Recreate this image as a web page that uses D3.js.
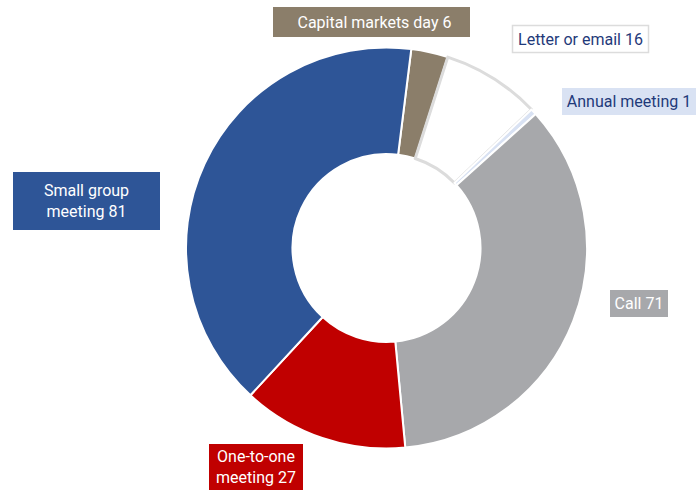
<!DOCTYPE html>
<html>
<head>
<meta charset="utf-8">
<script src="https://cdn.jsdelivr.net/npm/d3@7"></script>
<style>
  body { margin: 0; background: #fff; }
  svg { display: block; font-family: "Roboto", "Lato", sans-serif; }
</style>
</head>
<body>
<div id="chart"></div>
<script>
// DATA
var categories = ['Capital markets day', 'Letter or email', 'Annual meeting', 'Call', 'One-to-one meeting', 'Small group meeting'];
var values = [6, 16, 1, 71, 27, 81];
var labelLines = [
   ['Capital markets day 6'],
   ['Letter or email 16'],
   ['Annual meeting 1'],
   ['Call 71'],
   ['One-to-one', 'meeting 27'],
   ['Small group', 'meeting 81']
];

// STYLES
var fills = ['#8b7e6a', '#ffffff', '#d9e2f3', '#a7a8ab', '#c00000', '#2e5597'];
var strokes = ['#ffffff', '#dcdcdc', '#ffffff', '#ffffff', '#ffffff', '#ffffff'];
var boxFill = ['#8b7e6a', '#ffffff', '#d9e2f3', '#a7a8ab', '#c00000', '#2e5597'];
var boxStroke = ['none', '#dcdcdc', 'none', 'none', 'none', 'none'];
var textFill = ['#ffffff', '#1f3a7a', '#1f3a7a', '#ffffff', '#ffffff', '#ffffff'];

// LABEL BOXES [x, y, w, h]
var boxes = [
   [273, 7, 197, 30],
   [512.5, 25.5, 136, 27],
   [562, 88, 134, 27],
   [610, 290, 58, 27],
   [209, 444, 94, 46],
   [13, 172, 147, 58]
];

// SETTINGS
var width = 696, height = 490;
var cx = 386.5, cy = 248;
var outer = 200.5, inner = 94;
var start = 7.1 * Math.PI / 180;

var svg = d3.select('#chart').append('svg')
   .attr('width', width)
   .attr('height', height);

// PIE LAYOUT
var pie = d3.pie()
   .sort(null)
   .startAngle(start)
   .endAngle(start + 2 * Math.PI)
   .value((d) => { return d; });

var arc = d3.arc()
   .innerRadius(inner)
   .outerRadius(outer);

var g = svg.append('g')
   .attr('transform', 'translate(' + cx + ',' + cy + ')');

g.selectAll('path')
   .data(pie(values))
   .enter().append('path')
      .attr('d', arc)
      .attr('fill', (d, i) => { return fills[i]; })
      .attr('stroke', (d, i) => { return strokes[i]; })
      .attr('stroke-width', (d, i) => { return i == 1 ? 3 : 2; })
      .attr('stroke-linejoin', 'round');

// LABELS
var labels = svg.selectAll('g.label')
   .data(categories)
   .enter().append('g')
      .attr('class', 'label');

labels.append('rect')
   .attr('x', (d, i) => { return boxes[i][0]; })
   .attr('y', (d, i) => { return boxes[i][1]; })
   .attr('width', (d, i) => { return boxes[i][2]; })
   .attr('height', (d, i) => { return boxes[i][3]; })
   .attr('fill', (d, i) => { return boxFill[i]; })
   .attr('stroke', (d, i) => { return boxStroke[i]; })
   .attr('stroke-width', 1.5);

labels.each(function (d, i) {
   var b = boxes[i];
   var lines = labelLines[i];
   var lh = 21;
   var top = b[1] + b[3] / 2 - (lines.length - 1) * lh / 2;
   var t = d3.select(this).append('text')
      .attr('text-anchor', 'middle')
      .attr('font-size', 16)
      .attr('fill', textFill[i]);
   lines.forEach((line, k) => {
      t.append('tspan')
         .attr('x', b[0] + b[2] / 2 + (i == 0 ? 3 : 0))
         .attr('y', top + k * lh)
         .attr('dy', '0.36em')
         .text(line);
   });
});
</script>
</body>
</html>
